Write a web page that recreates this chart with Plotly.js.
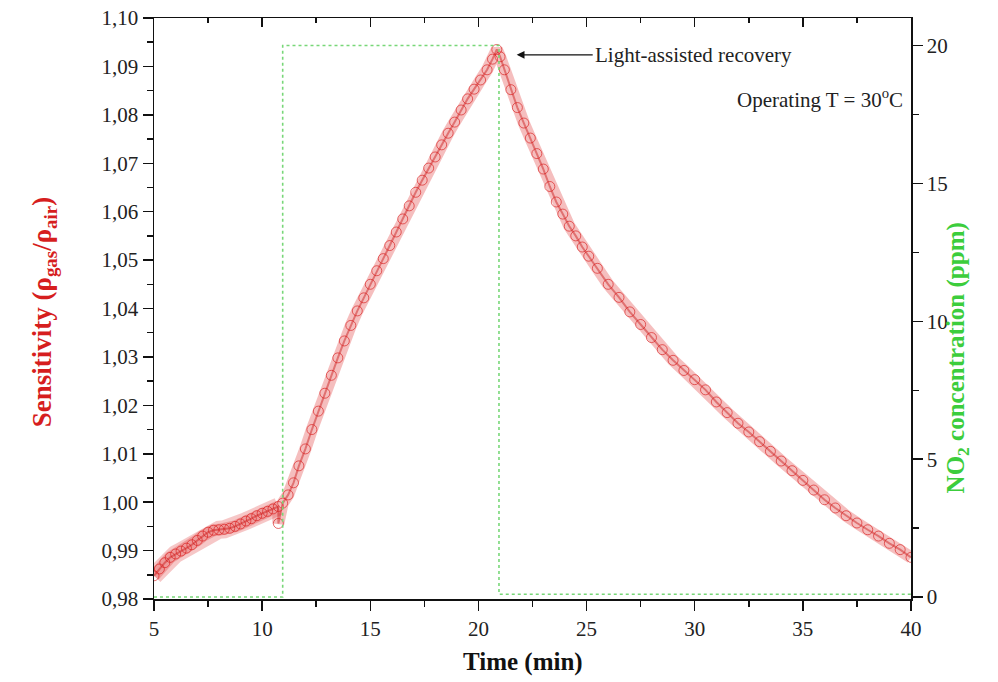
<!DOCTYPE html>
<html>
<head>
<meta charset="utf-8">
<script src="https://cdn.plot.ly/plotly-3.0.1.min.js"></script>
<style>html,body{margin:0;padding:0;background:#fff;}#chart{width:998px;height:682px;}</style>
</head>
<body>
<div id="chart"></div>
<script>
// Sensitivity readings (time in min, sensitivity ratio)
const timeMin = [5.0,5.25,5.5,5.75,6.0,6.25,6.5,6.75,7.0,7.25,7.5,7.75,8.0,8.25,8.5,8.75,9.0,9.25,9.5,9.75,10.0,10.25,10.5,10.75,10.75,10.95,
  11.2,11.45,11.7,12.0,12.3,12.6,12.9,13.2,13.5,13.8,14.1,14.4,14.7,15.0,15.3,15.6,15.9,16.2,16.5,16.8,17.1,17.4,17.7,18.0,18.3,18.6,18.9,19.2,19.5,19.8,20.1,20.4,20.65,20.85,
  21.0,21.2,21.5,21.8,22.1,22.4,22.7,23.0,23.3,23.6,23.9,24.2,24.5,24.8,25.1,25.5,26.0,26.5,27.0,27.5,28.0,28.5,29.0,29.5,30.0,30.5,31.0,31.5,32.0,32.5,33.0,33.5,34.0,34.5,35.0,35.5,36.0,36.5,37.0,37.5,38.0,38.5,39.0,39.5,40.0];
const sensitivity = [0.9848,0.9862,0.9875,0.9886,0.9893,0.9899,0.9905,0.9912,0.9921,0.9930,0.9938,0.9942,0.9943,0.9944,0.9946,0.9950,0.9955,0.9961,0.9966,0.9972,0.9977,0.9981,0.9986,0.9991,0.9956,0.9998,
  1.0015,1.0040,1.0075,1.0110,1.0150,1.0188,1.0225,1.0262,1.0298,1.0333,1.0365,1.0395,1.0422,1.0450,1.0478,1.0503,1.0530,1.0558,1.0585,1.0612,1.0640,1.0665,1.0690,1.0713,1.0738,1.0762,1.0785,1.0810,1.0833,1.0853,1.0872,1.0893,1.0915,1.0935,
  1.0920,1.0893,1.0852,1.0815,1.0783,1.0752,1.0720,1.0688,1.0652,1.0620,1.0595,1.0570,1.0550,1.0527,1.0508,1.0483,1.0450,1.0423,1.0393,1.0367,1.0340,1.0315,1.0293,1.0272,1.0253,1.0232,1.0207,1.0185,1.0163,1.0145,1.0125,1.0105,1.0085,1.0065,1.0045,1.0025,1.0005,0.9988,0.9972,0.9957,0.9943,0.9930,0.9915,0.9902,0.9886];

// NO2 gas pulse (time in min, ppm)
const gasTime = [5, 10.95, 10.95, 20.95, 20.95, 40];
const gasPpm  = [0, 0, 20, 20, 0.1, 0.1];

const xTickVals = [5,10,15,20,25,30,35,40];
const yTickVals = [0.98,0.99,1.00,1.01,1.02,1.03,1.04,1.05,1.06,1.07,1.08,1.09,1.10];
const y2TickVals = [0,5,10,15,20];

const serif = 'Liberation Serif, Times New Roman, serif';
const red = 'rgb(214,30,30)';
const green = 'rgb(60,205,60)';

// the noisier baseline part (before gas exposure) forms a wider band
const nBase = 24;
const traces = [
  { x: gasTime, y: gasPpm, yaxis: 'y2', type: 'scatter', mode: 'lines',
    line: {color: 'rgb(120,215,120)', width: 1.6, dash: 'dot'}, hoverinfo: 'skip', showlegend: false },
  { x: timeMin.slice(0, nBase), y: sensitivity.slice(0, nBase), type: 'scatter', mode: 'lines',
    line: {color: 'rgba(225,70,70,0.30)', width: 18}, hoverinfo: 'skip', showlegend: false },
  { x: timeMin, y: sensitivity, type: 'scatter', mode: 'lines',
    line: {color: 'rgba(225,70,70,0.35)', width: 12}, hoverinfo: 'skip', showlegend: false },
  { x: timeMin, y: sensitivity, type: 'scatter', mode: 'lines',
    line: {color: 'rgba(200,20,20,0.45)', width: 2}, hoverinfo: 'skip', showlegend: false },
  { x: timeMin, y: sensitivity, type: 'scatter', mode: 'markers',
    marker: {symbol: 'circle-open', size: 10, color: 'rgba(215,25,25,0.8)', line: {width: 0.8}}, showlegend: false }
];

const tickFont = {family: serif, size: 21, color: '#222'};

const layout = {
  width: 998, height: 682,
  margin: {l: 154, r: 87, t: 18, b: 83},
  paper_bgcolor: '#fff', plot_bgcolor: '#fff',
  separators: ',.',
  showlegend: false,
  xaxis: {
    range: [5, 40], tickvals: xTickVals, ticks: 'outside', ticklen: 10, tickwidth: 1.5, tickcolor: '#111',
    showline: true, linecolor: '#111', linewidth: 1.5, showgrid: false, zeroline: false,
    tickfont: tickFont,
    minor: {dtick: 2.5, tick0: 5, ticks: 'outside', ticklen: 6, tickwidth: 1.5, tickcolor: '#111', showgrid: false}
  },
  xaxis2: {
    overlaying: 'x', matches: 'x', side: 'top', range: [5, 40], tickvals: xTickVals, ticks: 'inside', ticklen: 9, tickwidth: 1.5, tickcolor: '#111',
    showticklabels: false, showline: true, linecolor: '#111', linewidth: 1.5, showgrid: false, zeroline: false,
    minor: {dtick: 2.5, tick0: 5, ticks: 'inside', ticklen: 5, tickwidth: 1.5, tickcolor: '#111', showgrid: false}
  },
  yaxis: {
    range: [0.98, 1.10], tickvals: yTickVals, tickformat: '.2f', ticks: 'outside', ticklen: 10, tickwidth: 1.5, tickcolor: '#111',
    showline: true, linecolor: '#111', linewidth: 1.5, showgrid: false, zeroline: false,
    tickfont: tickFont,
    minor: {dtick: 0.005, tick0: 0.98, ticks: 'outside', ticklen: 6, tickwidth: 1.5, tickcolor: '#111', showgrid: false}
  },
  yaxis2: {
    overlaying: 'y', side: 'right', range: [-0.07, 21.0], tickvals: y2TickVals, ticks: 'outside', ticklen: 10, tickwidth: 1.5, tickcolor: '#111',
    showline: true, linecolor: '#111', linewidth: 1.5, showgrid: false, zeroline: false,
    tickfont: tickFont,
    minor: {dtick: 2.5, tick0: 0, ticks: 'outside', ticklen: 6, tickwidth: 1.5, tickcolor: '#111', showgrid: false}
  },
  annotations: [
    { xref: 'paper', yref: 'paper', x: 0.488, y: -0.108, yanchor: 'middle', showarrow: false,
      text: 'Time (min)', font: {family: serif, size: 25, color: '#111', weight: 'bold'} },
    { xref: 'paper', yref: 'paper', x: -0.17, y: 0.494, textangle: -90, showarrow: false,
      text: 'Sensitivity (ρ<sub>gas</sub>/ρ<sub>air</sub>)', font: {family: serif, size: 27, color: red, weight: 'bold'} },
    { xref: 'paper', yref: 'paper', x: 1.0846, y: 0.415, textangle: -90, showarrow: false,
      text: 'NO<sub>2</sub> concentration (ppm)', font: {family: serif, size: 25, color: green, weight: 'bold'} },
    { xref: 'x', yref: 'y', x: 21.77, y: 1.0924, ax: 76, ay: 0, xanchor: 'left', showarrow: true,
      arrowhead: 2, arrowsize: 1.3, arrowwidth: 1.2, arrowcolor: '#111',
      text: 'Light-assisted recovery', font: {family: serif, size: 21, color: '#222'} },
    { xref: 'paper', yref: 'paper', x: 0.992, y: 0.862, xanchor: 'right', yanchor: 'middle', showarrow: false,
      text: 'Operating T = 30<sup>o</sup>C', font: {family: serif, size: 21, color: '#222'} }
  ]
};

// anchor the top overlay axis
traces.push({x: [5, 40], y: [null, null], xaxis: 'x2', type: 'scatter', mode: 'markers', hoverinfo: 'skip', showlegend: false});

Plotly.newPlot('chart', traces, layout, {displayModeBar: false, staticPlot: true});
</script>
</body>
</html>
